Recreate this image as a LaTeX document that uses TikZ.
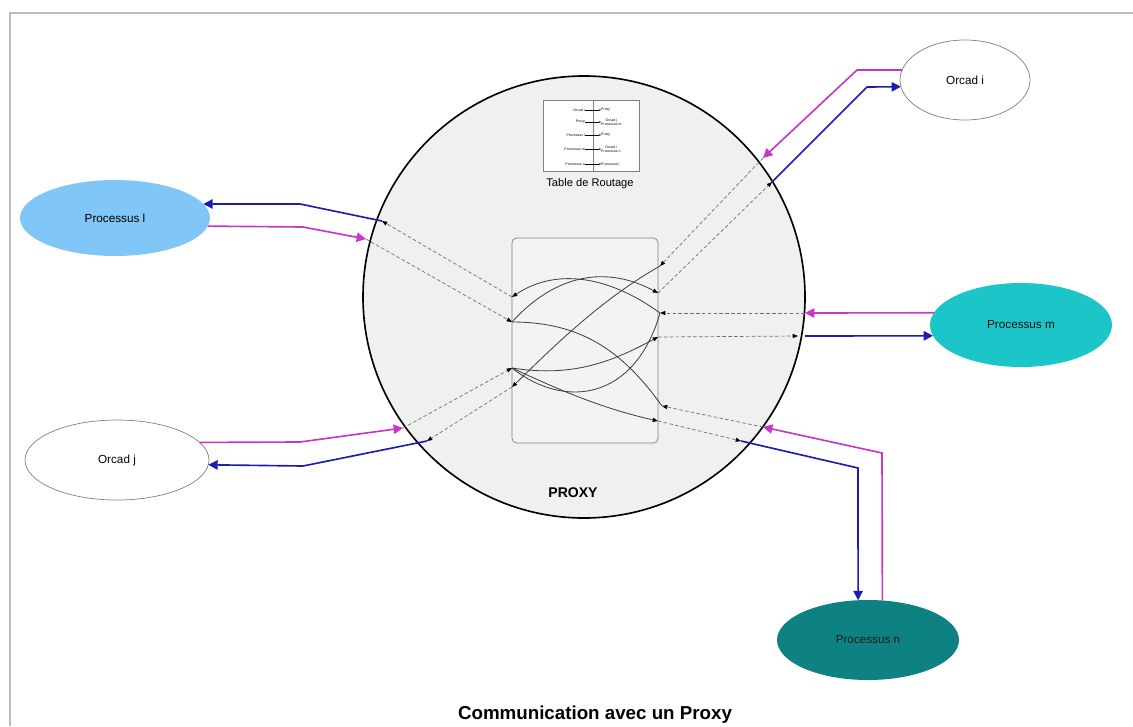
\documentclass[tikz,border=0pt]{standalone}
\usepackage{fontspec}
\setmainfont{Liberation Sans}
\usetikzlibrary{arrows.meta,shapes.geometric}
\definecolor{linkblue}{HTML}{1C1CB0}
\definecolor{linkmag}{HTML}{C836C8}
\definecolor{dashgray}{HTML}{707070}
\definecolor{curvegray}{HTML}{404040}
\definecolor{proxyfill}{HTML}{F0F0F0}
\definecolor{boxfill}{HTML}{F3F3F3}
\definecolor{procl}{HTML}{80C6F6}
\definecolor{procm}{HTML}{1CC6C8}
\definecolor{procn}{HTML}{0E8282}
\definecolor{framegray}{HTML}{BDBDBD}
\newlength\PX
\setlength\PX{0.03cm}
\begin{document}
\begin{tikzpicture}[x=0.03cm,y=-0.03cm,
  ell/.style={ellipse, inner sep=0pt, outer sep=0pt, font=\fontsize{10}{12}\selectfont},
  dashedlink/.style={draw=dashgray, dash pattern=on 3pt off 2pt, line width=0.6pt, -{Triangle[length=4.5pt,width=3.5pt,color=black]}},
  routecurve/.style={draw=curvegray, line width=0.7pt},
  routearrow/.style={routecurve, -{Triangle[length=4.5pt,width=3.5pt,color=black]}},
  bluelink/.style={draw=linkblue, line width=1.4pt, -{Triangle[length=8pt,width=8pt]}},
  maglink/.style={draw=linkmag, line width=1.4pt, -{Triangle[length=8pt,width=8pt]}},
  tabtxt/.style={inner sep=0pt, font=\fontsize{3}{3.4}\selectfont, align=center},
  tabarrow/.style={draw=black, line width=0.3pt, -{Triangle[length=1.5pt,width=1.2pt]}}
]
\useasboundingbox (0,0) rectangle (1133,726);
% frame
\draw[framegray, line width=1.3pt] (10,726) -- (10,13) -- (1133,13);

% proxy circle
\node[circle, draw=black, line width=1.4pt, fill=proxyfill, minimum size=442\PX, inner sep=0pt] (proxy) at (584,297) {};
\node[font=\bfseries\fontsize{12}{14}\selectfont] (proxylabel) at (573,493) {PROXY};

% routing table
\node[draw=gray, fill=white, line width=0.5pt, minimum width=96\PX, minimum height=71\PX, inner sep=0pt] (table) at (591,135.5) {};
\draw[gray, line width=0.5pt] (593,100) -- (593,171);
\node[font=\fontsize{9.5}{11}\selectfont] (tablelabel) at (590,184) {Table de Routage};
\node[tabtxt, anchor=east] (t1l) at (585,110) {Orcad i};
\node[tabtxt, anchor=west] (t1r) at (601,110) {Proxy};
\node[tabtxt, anchor=east] (t2l) at (585,122) {Proxy};
\node[tabtxt, anchor=west] (t2r) at (601,122) {Orcad j\\Processus m};
\node[tabtxt, anchor=east] (t3l) at (585,135) {Processus l};
\node[tabtxt, anchor=west] (t3r) at (601,135) {Proxy};
\node[tabtxt, anchor=east] (t4l) at (585,149) {Processus m};
\node[tabtxt, anchor=west] (t4r) at (601,149) {Orcad i\\Processus n};
\node[tabtxt, anchor=east] (t5l) at (585,164) {Processus n};
\node[tabtxt, anchor=west] (t5r) at (601,164) {Processus l};
\foreach \r in {1,...,5} { \draw[tabarrow] (t\r l.east) -- (t\r r.west); }

% inner router box
\node[draw=gray, fill=boxfill, line width=0.6pt, rounded corners=4pt, minimum width=146\PX, minimum height=205\PX, inner sep=0pt] (router) at (585,340.5) {};

% ports on the router box
\coordinate (L1) at (512,297);
\coordinate (L2) at (512,322);
\coordinate (L3) at (512,368);
\coordinate (L4) at (512,387);
\coordinate (R1) at (660,266);
\coordinate (R2) at (658,293);
\coordinate (R3) at (660,313);
\coordinate (R4) at (658,337);
\coordinate (R5) at (662,406);
\coordinate (R6) at (658,421);

% points on the proxy circle
\coordinate (lA) at (382,221);
\coordinate (lB) at (366,239);
\coordinate (jA) at (403,428);
\coordinate (jB) at (427,441);
\coordinate (iA) at (763,158);
\coordinate (iB) at (772,182);
\coordinate (mA) at (805,313);
\coordinate (mB) at (798,336);
\coordinate (nA) at (763,427);
\coordinate (nB) at (741,441);

% external nodes
\node[ell, fill=procl, minimum width=190\PX, minimum height=76\PX] (procl) at (115,218) {Processus l};
\node[ell, draw=gray, line width=0.6pt, fill=white, minimum width=184\PX, minimum height=80\PX] (orcadj) at (117,460) {Orcad j};
\node[ell, draw=gray, line width=0.6pt, fill=white, minimum width=130\PX, minimum height=80\PX] (orcadi) at (965,80) {Orcad i};
\node[ell, fill=procm, text=black!85!teal, minimum width=182\PX, minimum height=84\PX] (procm) at (1021,325) {Processus m};
\node[ell, fill=procn, text=black!90, minimum width=182\PX, minimum height=80\PX] (procn) at (868,640) {Processus n};

% dashed links inside the proxy
\draw[dashedlink] (L1) -- (lA);
\draw[dashedlink] (lB) -- (L2);
\draw[dashedlink] (jA) -- (L3);
\draw[dashedlink] (L4) -- (jB);
\draw[dashedlink] (iA) -- (R1);
\draw[dashedlink] (R2) -- (iB);
\draw[dashedlink] (mA) -- (R3);
\draw[dashedlink] (R4) -- (mB);
\draw[dashedlink] (nA) -- (R5);
\draw[dashedlink] (R6) -- (nB);

% routing curves inside the box
\draw[routearrow] (R3) .. controls (615,280) and (560,265) .. (L1);
\draw[routearrow] (L2) .. controls (550,280) and (600,262) .. (R2);
\draw[routearrow] (R1) .. controls (600,300) and (550,350) .. (L4);
\draw[routearrow] (L3) .. controls (575,378) and (615,360) .. (R4);
\draw[routearrow] (L3) .. controls (555,388) and (600,408) .. (R6);
\draw[routecurve] (L2) .. controls (580,322) and (622,350) .. (R5);
\draw[routecurve] (R3) .. controls (635,400) and (565,410) .. (L3);

% coloured links
\draw[bluelink] (lA) -- (300,204) -- (procl.9);
\draw[maglink] (procl.-5.6) -- (303,227) -- (lB);
\draw[maglink] (orcadj.12.4) -- (300,442) -- (jA);
\draw[bluelink] (jB) -- (303,466) -- (orcadj.-3.8);
\draw[maglink] (orcadi.171) -- (857,70) -- (iA);
\draw[bluelink] (iB) -- (867,87) -- (orcadi.186.2);
\draw[maglink] (procm.172.2) -- (mA);
\draw[bluelink] (805,336) -- (procm.187.1);
\draw[maglink] (procn.70.5) -- (882,453) -- (nA);
\draw[bluelink] (nB) -- (858,468) -- (procn.104.1);

% caption
\node[font=\bfseries\fontsize{16}{19}\selectfont] (caption) at (595,715) {Communication avec un Proxy};
\end{tikzpicture}
\end{document}
